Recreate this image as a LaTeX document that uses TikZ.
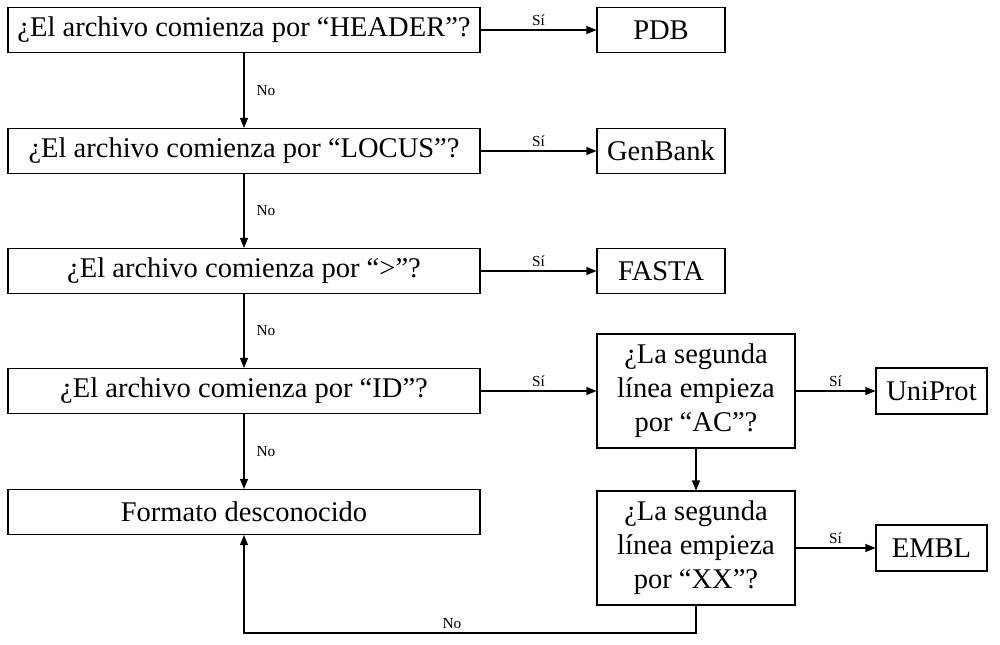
\documentclass[tikz,border=0pt]{standalone}
\usepackage{fontspec}
\setmainfont{Liberation Serif}
\usetikzlibrary{arrows.meta}
\begin{document}
\begin{tikzpicture}[x=0.75pt,y=-0.75pt,
            caja/.style={draw=black,line width=0.85pt,inner sep=0pt,align=center,
                font=\fontsize{21.4}{25.5}\selectfont},
            pregunta/.style={caja,minimum width=354pt,minimum height=33.75pt},
            formato/.style={caja,minimum width=96pt,minimum height=33.75pt},
            formatob/.style={caja,minimum width=83.25pt,minimum height=34.5pt},
            linea/.style={caja,minimum width=148.5pt,minimum height=85.5pt},
            flecha/.style={draw=black,line width=0.85pt,-{Triangle[length=7.5pt,width=6pt]}},
            etiq/.style={font=\fontsize{11.5}{13}\selectfont,inner sep=3pt}]
            \useasboundingbox (0,0) rectangle (1000,644);
            \node [pregunta] (q1) at (244,30) {¿El archivo comienza por “HEADER”?};
            \node [formato] (pdb) at (661,30) {PDB};
            \node [pregunta] (q2) at (244,151) {¿El archivo comienza por “LOCUS”?};
            \node [formato] (genbank) at (661,151) {GenBank};
            \node [pregunta] (q3) at (244,271) {¿El archivo comienza por “>”?};
            \node [formato] (fasta) at (661,271) {FASTA};
            \node [pregunta] (q4) at (244,391) {¿El archivo comienza por “ID”?};
            \node [linea] (ac) at (696,391) {¿La segunda\\línea empieza\\por “AC”?};
            \node [formatob] (uniprot) at (931.5,391) {UniProt};
            \node [pregunta] (unk) at (244,512) {Formato desconocido};
            \node [linea] (xx) at (696,548) {¿La segunda\\línea empieza\\por “XX”?};
            \node [formatob] (embl) at (931.5,548) {EMBL};
            \coordinate (esq) at (696,633);
            \draw [flecha] (q1) -- node [etiq,above] {Sí} (pdb);
            \draw [flecha] (q2) -- node [etiq,above] {Sí} (genbank);
            \draw [flecha] (q3) -- node [etiq,above] {Sí} (fasta);
            \draw [flecha] (q4) -- node [etiq,above] {Sí} (ac);
            \draw [flecha] (ac) -- node [etiq,above] {Sí} (uniprot);
            \draw [flecha] (xx) -- node [etiq,above] {Sí} (embl);
            \draw [flecha] (q1) -- node [etiq,right,xshift=6pt] {No} (q2);
            \draw [flecha] (q2) -- node [etiq,right,xshift=6pt] {No} (q3);
            \draw [flecha] (q3) -- node [etiq,right,xshift=6pt] {No} (q4);
            \draw [flecha] (q4) -- node [etiq,right,xshift=6pt] {No} (unk);
            \draw [flecha] (ac) -- (xx);
            \draw [flecha] (xx) -- (esq) -| node [etiq,above,pos=0.27] {No} (unk);
\end{tikzpicture}
\end{document}
